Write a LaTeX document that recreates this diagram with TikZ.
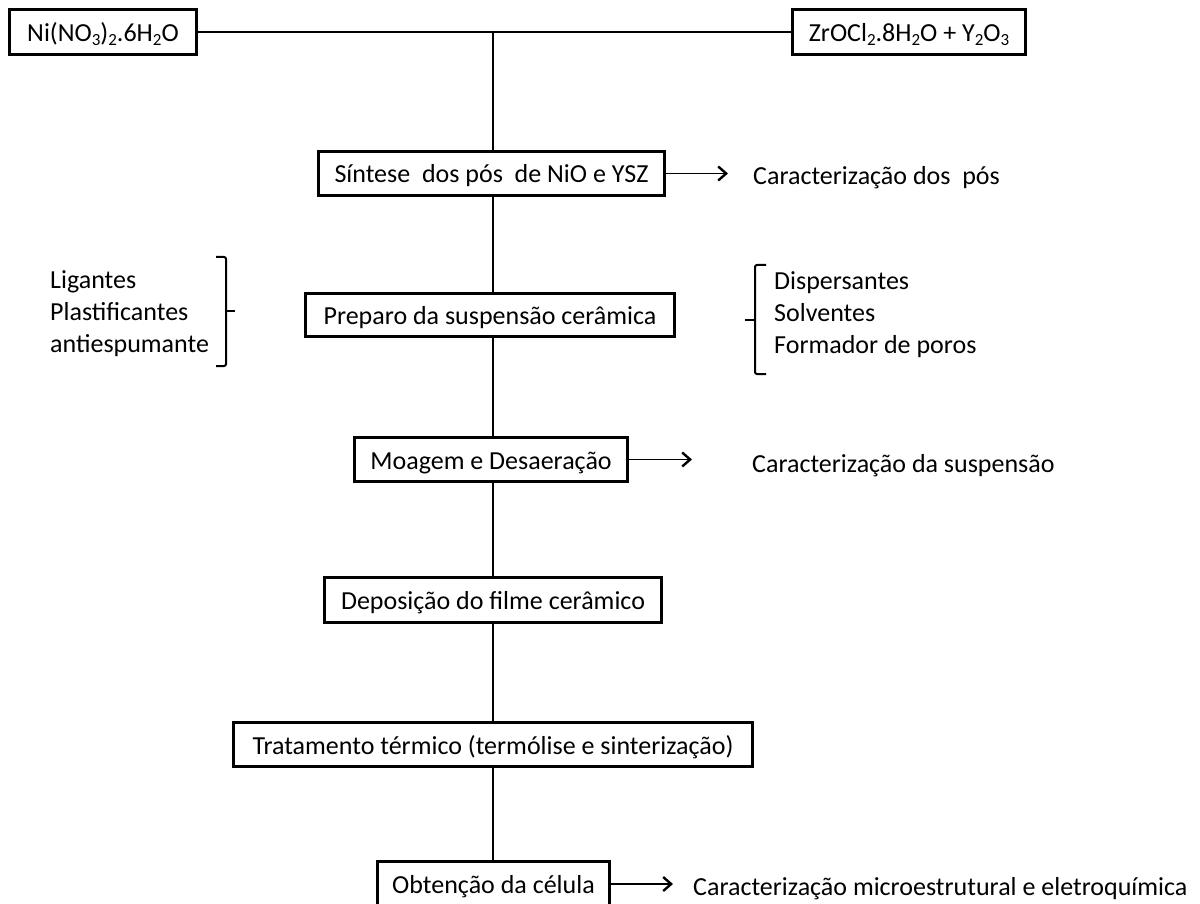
\documentclass[tikz,border=0pt]{standalone}
\usepackage{fontspec}
\setmainfont{Carlito}
\usetikzlibrary{arrows.meta}
\newcommand\chemsub[1]{\raisebox{-4pt}{\fontsize{17}{17}\selectfont #1}}
\begin{document}
\begin{tikzpicture}[x=1pt,y=-1pt,
  every node/.style={font=\fontsize{26}{32}\selectfont},
  box/.style={draw, line width=3pt, inner sep=0pt, text height=22pt, text depth=3pt, align=center},
  lbl/.style={inner sep=0pt, anchor=west, text height=22pt, text depth=3pt},
  lblblock/.style={inner sep=0pt, anchor=west, align=left},
  conn/.style={line width=1.3pt},
  arr/.style={line width=1.5pt, -{Straight Barb[length=8pt,width=14pt,line width=2.4pt]}},
  bracket/.style={line width=2pt, rounded corners=2pt}]
\clip (0,0) rectangle (1200,904);
\fill[white] (0,0) rectangle (1200,904);

% process boxes
\node[box, minimum width=187pt, minimum height=45pt] (ni) at (103,32) {Ni(NO\chemsub{3})\chemsub{2}.6H\chemsub{2}O};
\node[box, minimum width=233pt, minimum height=45pt] (zr) at (909,32) {ZrOCl\chemsub{2}.8H\chemsub{2}O + Y\chemsub{2}O\chemsub{3}};
\coordinate (j) at (493,32);
\node[box, minimum width=346pt, minimum height=44pt] (sint) at (491.5,173.5) {Síntese\ \ dos pós\ \ de NiO e YSZ};
\node[box, minimum width=369pt, minimum height=43pt] (prep) at (490,315) {Preparo da suspensão cerâmica};
\node[box, minimum width=273pt, minimum height=44pt] (moag) at (491,459.5) {Moagem e Desaeração};
\node[box, minimum width=337pt, minimum height=45pt] (depo) at (493,600) {Deposição do filme cerâmico};
\node[box, minimum width=519pt, minimum height=44pt] (trat) at (493,744.5) {Tratamento térmico (termólise e sinterização)};
\node[box, minimum width=232pt, minimum height=45pt] (obt) at (493.5,884) {Obtenção da célula};

% side labels
\node[lbl] (c1) at (753,175.5) {Caracterização dos\ \ pós};
\node[lbl] (c2) at (752,462.5) {Caracterização da suspensão};
\node[lbl] (c3) at (693,885.5) {Caracterização microestrutural e eletroquímica};
\node[lblblock] (lig) at (50,314) {Ligantes\\Plastificantes\\antiespumante};
\node[lblblock] (disp) at (774,314.5) {Dispersantes\\Solventes\\Formador de poros};

% main connectors
\draw[conn] (ni.east) -- (zr.west);
\draw[conn] (j) -- (j |- sint.north);
\draw[conn] (j |- sint.south) -- (j |- prep.north);
\draw[conn] (j |- prep.south) -- (j |- moag.north);
\draw[conn] (j |- moag.south) -- (j |- depo.north);
\draw[conn] (j |- depo.south) -- (j |- trat.north);
\draw[conn] (j |- trat.south) -- (j |- obt.north);

% arrows to characterisation
\draw[arr, shorten >=25pt] (sint.east) -- (sint.east -| c1.west);
\draw[arr, shorten >=60pt] (moag.east) -- (moag.east -| c2.west);
\draw[arr, shorten >=20pt] (obt.east) -- (obt.east -| c3.west);

% brackets
\draw[bracket] (216,257) -- (226,257) -- (226,366) -- (216,366);
\draw[bracket] (226,311) -- (235,311);
\draw[bracket] (766,265) -- (755,265) -- (755,374) -- (766,374);
\draw[bracket] (755,320) -- (745,320);
\end{tikzpicture}
\end{document}
